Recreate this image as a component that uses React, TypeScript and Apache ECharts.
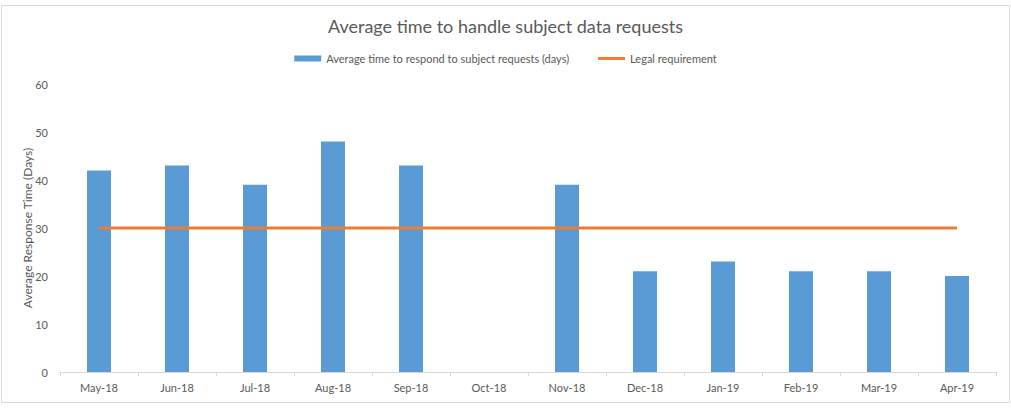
import React, { useEffect, useRef } from "react";
import * as echarts from "echarts";

const categories = ["May-18", "Jun-18", "Jul-18", "Aug-18", "Sep-18", "Oct-18", "Nov-18", "Dec-18", "Jan-19", "Feb-19", "Mar-19", "Apr-19"];
const responseDays: (number | null)[] = [42, 43, 39, 48, 43, null, 39, 21, 23, 21, 21, 20];
const legalRequirement = [30, 30, 30, 30, 30, 30, 30, 30, 30, 30, 30, 30];
const yTicks = { min: 0, max: 60, interval: 10 };

const FONT = "Lato";
const TEXT = "#595959";

export default function App() {
  const ref = useRef<HTMLDivElement>(null);
  useEffect(() => {
    document.body.style.margin = "0";
    const chart = echarts.init(ref.current!, null, { renderer: "svg" });
    chart.setOption({
      animation: false,
      backgroundColor: "#ffffff",
      textStyle: { fontFamily: FONT },
      graphic: [
        {
          type: "rect",
          shape: { x: 1.5, y: 5.5, width: 1008, height: 397 },
          style: { fill: "none", stroke: "#D9D9D9", lineWidth: 1 },
          silent: true,
        },
      ],
      title: {
        text: "Average time to handle subject data requests",
        left: "center",
        top: 12,
        textStyle: { fontFamily: FONT, fontSize: 18, fontWeight: "normal", color: TEXT },
      },
      legend: {
        top: 48,
        left: "center",
        itemGap: 29,
        itemWidth: 27,
        itemHeight: 6,
        textStyle: { fontFamily: FONT, fontSize: 11, color: TEXT },
        data: [
          { name: "Average time to respond to subject requests (days)", icon: "rect" },
          { name: "Legal requirement", icon: "path://M0,0 L27,0 L27,3 L0,3 Z" },
        ],
      },
      grid: { left: 60, right: 15, top: 84, bottom: 39, containLabel: false },
      xAxis: {
        type: "category",
        data: categories,
        boundaryGap: true,
        axisLine: { lineStyle: { color: "#D9D9D9", width: 1 } },
        axisTick: { show: true, length: 4, lineStyle: { color: "#D9D9D9" } },
        axisLabel: { color: TEXT, fontFamily: FONT, fontSize: 11, margin: 10 },
      },
      yAxis: {
        type: "value",
        min: yTicks.min,
        max: yTicks.max,
        interval: yTicks.interval,
        name: "Average Response Time (Days)",
        nameLocation: "middle",
        nameGap: 27,
        nameMoveOverlap: false,
        nameTextStyle: { color: TEXT, fontFamily: FONT, fontSize: 12 },
        axisLine: { show: false },
        axisTick: { show: false },
        splitLine: { show: false },
        axisLabel: { color: TEXT, fontFamily: FONT, fontSize: 11, margin: 12 },
      },
      series: [
        {
          name: "Average time to respond to subject requests (days)",
          type: "bar",
          data: responseDays,
          barWidth: 24,
          itemStyle: { color: "#5B9BD5" },
        },
        {
          name: "Legal requirement",
          type: "line",
          data: legalRequirement,
          symbol: "none",
          lineStyle: { color: "#ED7D31", width: 3 },
          itemStyle: { color: "#ED7D31" },
        },
      ],
    });
    return () => chart.dispose();
  }, []);
  return <div ref={ref} style={{ width: 1011, height: 411 }} />;
}
